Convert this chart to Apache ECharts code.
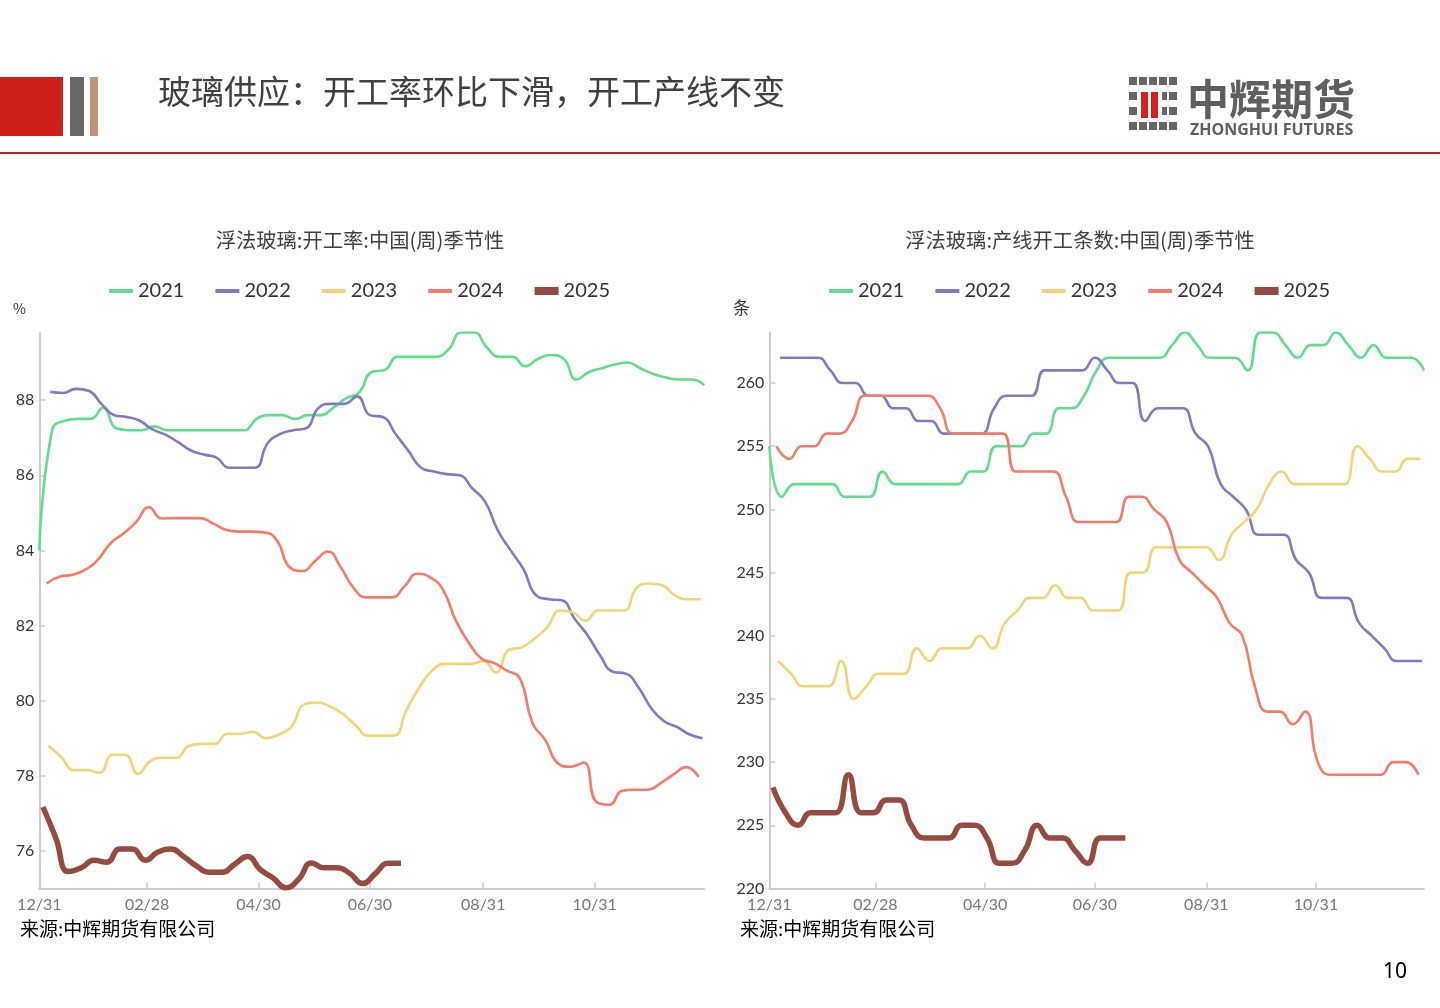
<!DOCTYPE html>
<html>
<head>
<meta charset="utf-8">
<script src="https://cdn.jsdelivr.net/npm/echarts@6/dist/echarts.min.js"></script>
<style>
html,body{margin:0;padding:0;background:#fff;width:1440px;height:1008px;overflow:hidden;font-family:"Noto Sans CJK SC","Noto Sans",sans-serif;}
#chart{position:absolute;left:0;top:0;width:1440px;height:1008px;}
.abs{position:absolute;white-space:nowrap;}
</style>
</head>
<body>
<div id="chart"></div>
<div class="abs" style="left:0;top:77px;width:63px;height:59px;background:#cf1f1a"></div>
<div class="abs" style="left:70px;top:77px;width:14px;height:59px;background:#676767"></div>
<div class="abs" style="left:90px;top:77px;width:8px;height:59px;background:#c09478"></div>
<div class="abs" style="left:158px;top:68px;font-size:33px;line-height:44px;color:#404040;">玻璃供应：开工率环比下滑，开工产线不变</div>
<div class="abs" style="left:0;top:152px;width:1440px;height:2px;background:#c8201e"></div>
<div id="logo"></div>
<div class="abs" style="left:1187px;top:73px;font-size:42px;line-height:48px;font-weight:bold;color:#5f5f5f;">中辉期货</div>
<div class="abs" style="left:1190px;top:118px;font-size:16px;line-height:22px;font-weight:bold;color:#5f5f5f;font-family:'Open Sans','Noto Sans',sans-serif;">ZHONGHUI FUTURES</div>
<div class="abs" style="left:20px;top:914px;font-size:19px;line-height:28px;color:#000;">来源:中辉期货有限公司</div>
<div class="abs" style="left:740px;top:914px;font-size:19px;line-height:28px;color:#000;">来源:中辉期货有限公司</div>
<div class="abs" style="left:1383px;top:956px;font-size:21px;line-height:28px;color:#000;font-family:'Noto Sans',sans-serif;">10</div>
<script>
// ---------- logo squares ----------
(function(){
  var logo = document.getElementById('logo');
  var html = '';
  for (var r = 0; r < 4; r++) {
    for (var c = 0; c < 5; c++) {
      var red = (r === 1 || r === 2) && (c === 1 || c === 2 || c === 3);
      if (red) continue;
      html += '<div class="abs" style="left:' + (1129 + c * 10) + 'px;top:' + (77 + r * 15) + 'px;width:8px;height:8px;background:#666"></div>';
    }
  }
  html += '<div class="abs" style="left:1141px;top:92px;width:7px;height:26px;background:#d9201c"></div>';
  html += '<div class="abs" style="left:1151px;top:92px;width:7px;height:26px;background:#d9201c"></div>';
  html += '<div class="abs" style="left:1162px;top:92px;width:5px;height:8px;background:#666"></div>';
  html += '<div class="abs" style="left:1162px;top:107px;width:5px;height:8px;background:#666"></div>';
  logo.innerHTML = html;
})();

// ---------- data ----------
var years = ['2021', '2022', '2023', '2024', '2025'];
var firstReport = ['12/31', '01/06', '01/05', '01/04', '01/02'];
var tickLabels = ['12/31', '02/28', '04/30', '06/30', '08/31', '10/31'];

var rate2021 = [84.0, 87.2, 87.45, 87.5, 87.5, 87.8, 87.25, 87.2, 87.2, 87.3, 87.2, 87.2, 87.2, 87.2, 87.2, 87.2, 87.2, 87.5, 87.6, 87.6, 87.5, 87.6, 87.6, 87.8, 88.05, 88.2, 88.75, 88.8, 89.15, 89.15, 89.15, 89.15, 89.35, 89.8, 89.8, 89.4, 89.15, 89.15, 88.9, 89.1, 89.2, 89.1, 88.55, 88.75, 88.85, 88.95, 89.0, 88.85, 88.7, 88.6, 88.55, 88.55, 88.4];
var rate2022 = [88.22, 88.19, 88.3, 88.25, 87.9, 87.6, 87.55, 87.45, 87.22, 87.08, 86.88, 86.66, 86.55, 86.47, 86.2, 86.2, 86.2, 86.85, 87.1, 87.2, 87.25, 87.8, 87.9, 87.9, 88.1, 87.6, 87.55, 87.1, 86.65, 86.2, 86.1, 86.03, 86.0, 85.65, 85.3, 84.53, 84.0, 83.5, 82.8, 82.7, 82.67, 82.18, 81.75, 81.2, 80.77, 80.72, 80.35, 79.8, 79.45, 79.3, 79.1, 79.0];
var rate2023 = [78.8, 78.5, 78.15, 78.15, 78.08, 78.56, 78.56, 78.05, 78.4, 78.48, 78.48, 78.8, 78.85, 78.85, 79.12, 79.12, 79.17, 79.0, 79.1, 79.3, 79.9, 79.95, 79.85, 79.65, 79.35, 79.07, 79.07, 79.07, 79.75, 80.35, 80.8, 80.98, 80.98, 80.98, 81.05, 80.75, 81.35, 81.42, 81.65, 81.95, 82.4, 82.35, 82.13, 82.4, 82.4, 82.4, 83.0, 83.12, 83.07, 82.8, 82.7, 82.7];
var rate2024 = [83.12, 83.3, 83.35, 83.48, 83.75, 84.19, 84.45, 84.75, 85.15, 84.85, 84.86, 84.86, 84.86, 84.72, 84.55, 84.5, 84.5, 84.48, 84.27, 83.55, 83.45, 83.72, 83.97, 83.55, 83.0, 82.75, 82.75, 82.75, 83.05, 83.38, 83.28, 82.95, 82.13, 81.55, 81.12, 81.0, 80.8, 80.6, 79.4, 78.95, 78.33, 78.24, 78.35, 77.3, 77.23, 77.6, 77.63, 77.63, 77.8, 78.03, 78.23, 77.97];
var rate2025 = [77.17, 76.35, 75.45, 75.55, 75.75, 75.7, 76.05, 76.05, 75.75, 75.97, 76.05, 75.85, 75.6, 75.43, 75.43, 75.65, 75.85, 75.5, 75.28, 75.02, 75.25, 75.68, 75.55, 75.55, 75.4, 75.13, 75.4, 75.67, 75.67];

var lines2021 = [255, 251, 252, 252, 252, 252, 251, 251, 251, 253, 252, 252, 252, 252, 252, 252, 253, 253, 255, 255, 255, 256, 256, 258, 258, 259, 261, 262, 262, 262, 262, 262, 263, 264, 263, 262, 262, 262, 261, 264, 264, 263, 262, 263, 263, 264, 263, 262, 263, 262, 262, 262, 261];
var lines2022 = [262, 262, 262, 262, 261, 260, 260, 259, 259, 258, 258, 257, 257, 256, 256, 256, 256, 258, 259, 259, 259, 261, 261, 261, 261, 262, 261, 260, 260, 257, 258, 258, 258, 256, 255, 252, 251, 250, 248, 248, 248, 246, 245, 243, 243, 243, 241, 240, 239, 238, 238, 238];
var lines2023 = [238, 237, 236, 236, 236, 238, 235, 236, 237, 237, 237, 239, 238, 239, 239, 239, 240, 239, 241, 242, 243, 243, 244, 243, 243, 242, 242, 242, 245, 245, 247, 247, 247, 247, 247, 246, 248, 249, 250, 252, 253, 252, 252, 252, 252, 252, 255, 254, 253, 253, 254, 254];
var lines2024 = [255, 254, 255, 255, 256, 256, 257, 259, 259, 259, 259, 259, 259, 258, 256, 256, 256, 256, 256, 253, 253, 253, 253, 251, 249, 249, 249, 249, 251, 251, 250, 249, 246, 245, 244, 243, 241, 240, 236, 234, 234, 233, 234, 230, 229, 229, 229, 229, 229, 230, 230, 229];
var lines2025 = [228, 226, 225, 226, 226, 226, 229, 226, 226, 227, 227, 225, 224, 224, 224, 225, 225, 224, 222, 222, 223, 225, 224, 224, 223, 222, 224, 224, 224];

// ---------- axis categories (daily, 12/31 .. 12/30) ----------
var days = [];
(function(){
  var d = new Date(2022, 11, 31);
  for (var i = 0; i < 365; i++) {
    var m = d.getMonth() + 1, dd = d.getDate();
    days.push((m < 10 ? '0' : '') + m + '/' + (dd < 10 ? '0' : '') + dd);
    d.setDate(d.getDate() + 1);
  }
})();

function toDaily(values, first) {
  var arr = new Array(days.length).fill(null);
  var s = days.indexOf(first);
  values.forEach(function(v, i){ var k = s + 7 * i; if (k < arr.length) arr[k] = v; });
  return arr;
}

var colors = ['#62DC8F', '#8279C1', '#F1D47A', '#F27B6C', '#964B42'];
var widths = [2.6, 2.6, 2.6, 2.6, 5.5];
var rateData = [rate2021, rate2022, rate2023, rate2024, rate2025];
var linesData = [lines2021, lines2022, lines2023, lines2024, lines2025];

var tickSet = {};
tickLabels.forEach(function(t){ tickSet[t] = true; });
function showTick(idx, val) { return !!tickSet[val]; }

var thinIcon = 'path://M0,0M24,9M0,2.5L24,2.5L24,6.5L0,6.5Z';
var thickIcon = 'path://M0,0M24,9M0,0.5L24,0.5L24,8.5L0,8.5Z';

function xAxisOf(gi) {
  return {
    type: 'category', gridIndex: gi, data: days, boundaryGap: false,
    axisLine: { lineStyle: { color: '#cccccc', width: 2 } },
    axisTick: { show: true, inside: true, length: 6, interval: showTick, lineStyle: { color: '#cccccc', width: 1.5 } },
    axisLabel: { interval: showTick, color: '#777777', fontSize: 16, fontFamily: 'Lato', margin: 8 },
    splitLine: { show: false }
  };
}
function yAxisOf(gi, min, max, extra) {
  var o = {
    type: 'value', gridIndex: gi, min: min, max: max, scale: true,
    axisLine: { show: true, lineStyle: { color: '#cccccc', width: 2 } },
    axisTick: { show: true, inside: true, length: 6, lineStyle: { color: '#cccccc', width: 1.5 } },
    axisLabel: { color: '#333333', fontSize: 16, fontFamily: 'Lato', margin: 5, showMinLabel: extra.showMin, showMaxLabel: false },
    splitLine: { show: false }
  };
  for (var k in extra.axis) o[k] = extra.axis[k];
  return o;
}

var series = [];
years.forEach(function(y, i){
  series.push({
    name: y, type: 'line', xAxisIndex: 0, yAxisIndex: 0,
    data: toDaily(rateData[i], firstReport[i]),
    smooth: true, connectNulls: true, showSymbol: false, symbol: 'none',
    lineStyle: { width: widths[i], color: colors[i] }, itemStyle: { color: colors[i] },
    z: i === 4 ? 5 : 2
  });
  series.push({
    name: y, type: 'line', xAxisIndex: 1, yAxisIndex: 1,
    data: toDaily(linesData[i], firstReport[i]),
    smooth: true, connectNulls: true, showSymbol: false, symbol: 'none',
    lineStyle: { width: widths[i], color: colors[i] }, itemStyle: { color: colors[i] },
    z: i === 4 ? 5 : 2
  });
});

function legendOf(left) {
  return {
    left: left, top: 276, itemWidth: 24, itemHeight: 9, itemGap: 31,
    textStyle: { color: '#333333', fontSize: 20, fontFamily: 'Lato' },
    data: years.map(function(y){ return { name: y, icon: y === '2025' ? thickIcon : thinIcon }; })
  };
}

function txt(x, y, text, size, color, align) {
  return {
    type: 'text', x: x, y: y, silent: true,
    style: { text: text, fontSize: size, fontFamily: 'Noto Sans CJK SC', fill: color,
             align: align, verticalAlign: 'middle', textAlign: align, textVerticalAlign: 'middle' }
  };
}

var chart = echarts.init(document.getElementById('chart'), null, { renderer: 'canvas' });
chart.setOption({
  animation: false,
  backgroundColor: 'transparent',
  grid: [
    { left: 39.3, top: 332.5, width: 665, height: 556, containLabel: false },
    { left: 769.3, top: 332.5, width: 654.6, height: 556, containLabel: false }
  ],
  legend: [legendOf(104), legendOf(824)],
  xAxis: [xAxisOf(0), xAxisOf(1)],
  yAxis: [
    yAxisOf(0, 75, 89.8, { showMin: false, axis: { splitNumber: 7 } }),
    yAxisOf(1, 220, 264, { showMin: true, axis: { interval: 5 } })
  ],
  graphic: [
    txt(360, 240, '浮法玻璃:开工率:中国(周)季节性', 20.3, '#404040', 'center'),
    txt(1080, 240, '浮法玻璃:产线开工条数:中国(周)季节性', 20.3, '#404040', 'center'),
    txt(13, 309, '%', 14, '#333333', 'left'),
    txt(733, 308, '条', 17, '#333333', 'left')
  ],
  series: series
});
</script>
</body>
</html>
